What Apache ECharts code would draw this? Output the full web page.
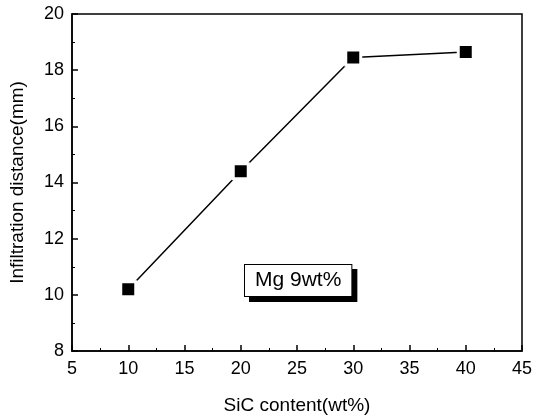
<!DOCTYPE html>
<html><head><meta charset="utf-8">
<script src="https://cdn.jsdelivr.net/npm/echarts@6/dist/echarts.min.js"></script>
<style>html,body{margin:0;padding:0;background:#fff}#c{width:534px;height:418px}</style>
</head><body><div id="c"></div>
<script>
const sicContent = [10, 20, 30, 40];
const infiltration = [10.2, 14.4, 18.45, 18.65];
const xTitle = 'SiC content(wt%)';
const yTitle = 'Infiltration distance(mm)';
const noteText = 'Mg 9wt%';

const chart = echarts.init(document.getElementById('c'));
const font = 'Liberation Sans, Arial, sans-serif';
const axisCommon = {
  axisLine: {show: true, lineStyle: {color: '#000', width: 1.5}},
  axisTick: {show: true, inside: true, length: 6, lineStyle: {color: '#000', width: 1.5}},
  minorTick: {show: true, splitNumber: 2, length: 3, lineStyle: {color: '#000'}},
  splitLine: {show: false},
  axisLabel: {color: '#000', fontSize: 18, fontFamily: font},
  nameTextStyle: {color: '#000', fontSize: 19, fontFamily: font}
};
chart.setOption({
  animation: false,
  backgroundColor: '#fff',
  grid: {left: 72, right: 12, top: 14, bottom: 67, show: true, borderColor: '#000', borderWidth: 1.5,
         outerBoundsMode: 'none', containLabel: false},
  xAxis: Object.assign({}, axisCommon, {
    type: 'value', min: 5, max: 45, interval: 5,
    name: xTitle, nameLocation: 'middle', nameGap: 45,
    axisLabel: Object.assign({}, axisCommon.axisLabel, {margin: 9})
  }),
  yAxis: Object.assign({}, axisCommon, {
    type: 'value', min: 8, max: 20, interval: 2,
    name: yTitle, nameLocation: 'middle', nameGap: 45,
    axisLabel: Object.assign({}, axisCommon.axisLabel, {margin: 8})
  }),
  series: [{
    type: 'line',
    data: sicContent.map((x, i) => [x, infiltration[i]]),
    symbol: 'rect', symbolSize: 15,
    itemStyle: {color: '#000', borderColor: '#fff', borderWidth: 3},
    lineStyle: {color: '#000', width: 1.5}
  }],
  graphic: [{
    type: 'text', left: 244, top: 264, z: 10,
    style: {
      text: noteText, fill: '#000', font: '21px ' + font,
      backgroundColor: '#fff', borderColor: '#000', borderWidth: 1,
      padding: [5, 10, 5, 10],
      shadowColor: '#000', shadowOffsetX: 5, shadowOffsetY: 5, shadowBlur: 0
    }
  }]
});
</script></body></html>
